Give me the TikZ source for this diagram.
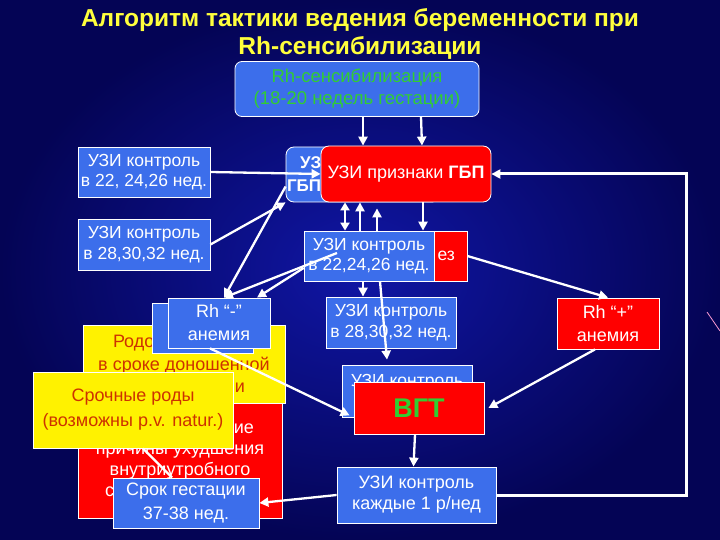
\documentclass[tikz,border=0pt]{standalone}
\usepackage{fontspec}
\setmainfont{Liberation Sans}
\usetikzlibrary{arrows.meta}
\definecolor{bgin}{RGB}{16,22,165}
\definecolor{bgout}{RGB}{4,4,85}
\definecolor{boxblue}{RGB}{60,110,235}
\definecolor{titleyel}{RGB}{255,255,60}
\definecolor{vgtgreen}{RGB}{50,205,50}
\definecolor{yeltext}{RGB}{205,50,0}
\tikzset{
  bx/.style={draw=white, line width=0.8pt, align=center, text=white, inner sep=0pt,
    font=\fontsize{17.5}{20.5}\selectfont},
  bluebx/.style={bx, fill=boxblue},
  redbx/.style={bx, fill=red},
  yelbx/.style={bx, fill=yellow, text=yeltext},
  arr/.style={white, line width=2.3pt, -{Triangle[length=9pt,width=9pt]}},
  ln/.style={white, line width=2.3pt},
}
\begin{document}
\begin{tikzpicture}[x=1pt,y=-1pt]
    \shade[inner color=bgin, outer color=bgout] (0,0) rectangle (720,540);
    \useasboundingbox (0,0) rectangle (720,540);
    \draw[magenta!40!white, line width=0.8pt] (707,312) -- (720,331);
    \node[text=titleyel, align=center, font=\bfseries\fontsize{24.5}{28}\selectfont] (title) at (360,34)
        {Алгоритм тактики ведения беременности при\\Rh-сенсибилизации};
    \node[bluebx, rounded corners=7pt, minimum width=244pt, minimum height=55pt, text=vgtgreen,
        font=\fontsize{18.5}{22}\selectfont] (top) at (357,89) {Rh-сенсибилизация\\(18-20 недель гестации)};
    \node[bluebx, minimum width=132pt, minimum height=50pt] (u1) at (144,172) {УЗИ контроль\\в 22, 24,26 нед.};
    \node[bluebx, minimum width=132pt, minimum height=51pt] (u2) at (144,244.5) {УЗИ контроль\\в 28,30,32 нед.};
    \node[bluebx, rounded corners=8pt, minimum width=154pt, minimum height=55pt, text width=152pt, align=left,
        font=\bfseries\fontsize{17}{23}\selectfont] (gbpb) at (363,174.5) {\hspace*{13pt}УЗИ\\ГБП};
    \node[redbx, rounded corners=8pt, minimum width=170pt, minimum height=56pt, font=\fontsize{18}{20.5}\selectfont]
        (gbp) at (406,174) {УЗИ признаки \textbf{ГБП}};
    \node[redbx, minimum width=163pt, minimum height=50pt, text width=139pt, align=right] (amn) at (385.5,256) {ез};
    \node[bluebx, minimum width=130pt, minimum height=50pt] (u3) at (369,256) {УЗИ контроль\\в 22,24,26 нед.};
    \node[bluebx, minimum width=130pt, minimum height=51pt] (u4) at (391,322.5) {УЗИ контроль\\в 28,30,32 нед.};
    \node[bluebx, minimum width=130pt, minimum height=52pt,
        label={[text=white, anchor=north, yshift=-6pt, font=\fontsize{17.5}{20.5}\selectfont]north:УЗИ контроль}] (u5) at (407,391) {};
    \node[redbx, minimum width=130pt, minimum height=52pt, text=vgtgreen,
        font=\bfseries\fontsize{27}{30}\selectfont] (vgt) at (419,408) {ВГТ};
    \node[bluebx, minimum width=159pt, minimum height=56pt, font=\fontsize{18}{21}\selectfont] (u6) at (416.5,495)
        {УЗИ контроль\\каждые 1 р/нед};
    \node[redbx, minimum width=102pt, minimum height=51pt, font=\fontsize{18}{23}\selectfont] (rhp) at (608,323.5)
        {Rh “+”\\анемия};
    \node[redbx, minimum width=204pt, minimum height=116pt, font=\fontsize{18}{21}\selectfont] (red1) at (180,460)
        {\makebox[168pt][r]{тие\hspace*{10pt}}\\причины ухудшения\\внутриутробного\\\makebox[168pt][l]{\hspace*{9pt}с}};
    \node[yelbx, minimum width=202pt, minimum height=78pt, font=\fontsize{18}{22.5}\selectfont] (yel1) at (184,364)
        {\makebox[172pt][l]{\hspace*{15pt}Родо}\\в сроке доношенной\\\makebox[172pt][r]{и\hspace*{25pt}}};
    \node[bluebx, minimum width=101pt, minimum height=50pt] (rhmb) at (202.5,328) {};
    \node[bluebx, minimum width=102pt, minimum height=50pt, font=\fontsize{18}{23}\selectfont] (rhm) at (219,323)
        {Rh “-”\\анемия};
    \node[yelbx, minimum width=200pt, minimum height=76pt, font=\fontsize{18}{25}\selectfont] (yel2) at (133,410)
        {Срочные роды\\(возможны p.v. natur.)};
    \node[bluebx, minimum width=146pt, minimum height=50pt, font=\fontsize{18}{24}\selectfont] (srok) at (186,503)
        {Срок гестации\\37-38 нед.};
    \draw[arr] ([xshift=6pt]top.south) -- ([xshift=-43pt]gbp.north);
    \draw[arr] ([xshift=64pt]top.south) -- ([xshift=16pt]gbp.north);
    \draw[arr] (u1.east) -- (gbp.west);
    \draw[arr] (u2.east) -- (gbpb.south west);
    \draw[arr] ([yshift=-12pt]gbpb.west) -- ([xshift=5pt]rhm.north);
    \draw[arr] ([xshift=-32pt,yshift=3pt]u3.center) -- ([xshift=5pt]rhm.north);
    \draw[arr] ([yshift=-12pt]u3.west) -- ([xshift=38pt]rhm.north);
    \draw[white, line width=2.3pt, {Triangle[length=8pt,width=9pt]}-{Triangle[length=8pt,width=9pt]}]
        ([xshift=-61pt]gbp.south) -- ([xshift=-24pt]u3.north);
    \draw[arr] ([xshift=-9pt]u3.north) -- ([xshift=-46pt]gbp.south);
    \draw[arr] ([xshift=8pt]u3.north) -- ([xshift=-29pt,yshift=-6pt]gbp.south);
    \draw[arr] ([xshift=17pt]gbp.south) -- ([xshift=54pt]u3.north);
    \draw[arr] (amn.east) -- (rhp.north);
    \draw[arr] ([xshift=-6pt]u3.south) -- ([xshift=-28pt]u4.north);
    \draw[arr] ([xshift=11pt]u3.south) -- ([xshift=-20pt,yshift=5pt]u5.north);
    \draw[arr] ([xshift=-9pt]rhm.south) -- ([xshift=8pt,yshift=2pt]u5.south west);
    \draw[arr] ([xshift=-13pt]rhp.south) -- ([xshift=4pt]vgt.east);
    \draw[arr] ([xshift=-4pt]vgt.south) -- ([xshift=-3pt]u6.north);
    \draw[arr] (u6.west) -- (srok.east);
    \draw[arr, line width=3pt] (u6.east) -| ([xshift=195pt]gbp.east) -- (gbp.east);
    \draw[ln] ([xshift=10pt]yel2.south) -- ([xshift=-14pt]srok.north);
\end{tikzpicture}
\end{document}
